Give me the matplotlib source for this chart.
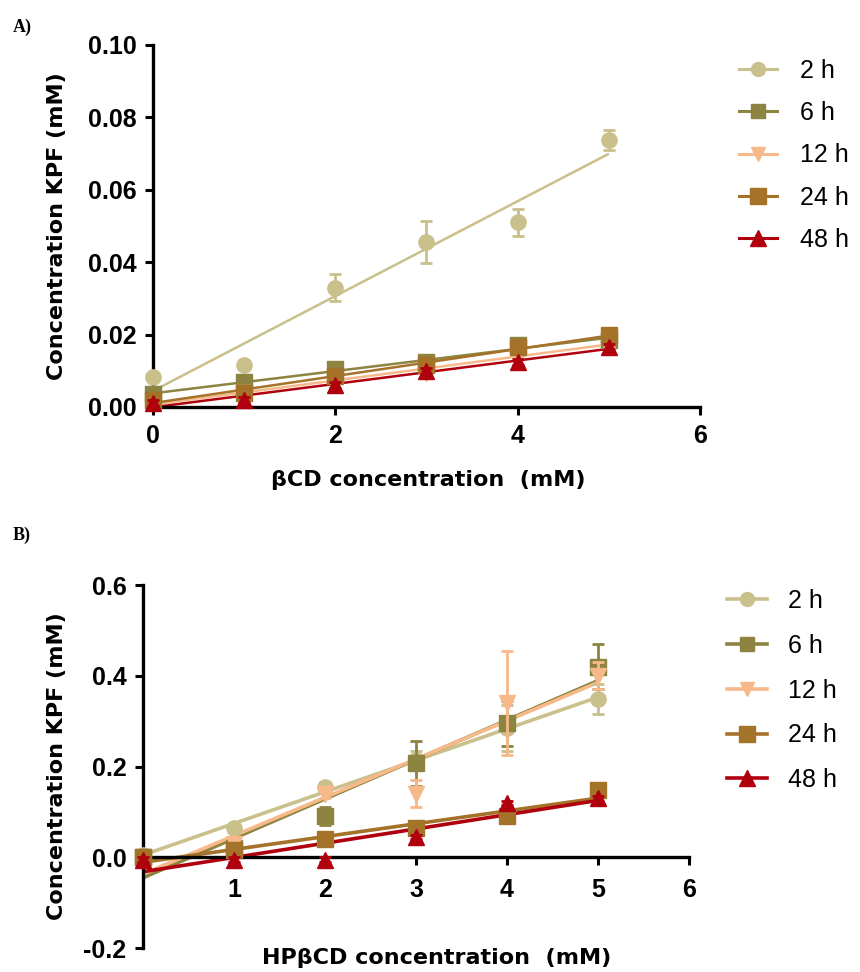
import numpy as np
import matplotlib
matplotlib.use("Agg")
import matplotlib.pyplot as plt
from matplotlib.lines import Line2D
from matplotlib import font_manager as fm

# ---------------- data ----------------
x_vals = [0, 1, 2, 3, 4, 5]
series_labels = ["2 h", "6 h", "12 h", "24 h", "48 h"]

# Panel A (beta-CD)
a_2h = [0.0083, 0.0115, 0.033, 0.0456, 0.051, 0.0738]
a_2h_err = [0.0008, 0.0008, 0.0037, 0.0058, 0.0037, 0.0028]
a_6h = [0.0035, 0.0068, 0.0105, 0.0125, 0.017, 0.0185]
a_6h_err = [0.0010, 0.0010, 0.0010, 0.0010, 0.0010, 0.0012]
a_12h = [0.0010, 0.0040, 0.0075, 0.0095, 0.0145, 0.0175]
a_12h_err = [0.0008, 0.0008, 0.0010, 0.0010, 0.0010, 0.0010]
a_24h = [0.0020, 0.0040, 0.0085, 0.0115, 0.0165, 0.0200]
a_24h_err = [0.0008, 0.0008, 0.0010, 0.0010, 0.0010, 0.0012]
a_48h = [0.0010, 0.0020, 0.0060, 0.0100, 0.0125, 0.0165]
a_48h_err = [0.0008, 0.0008, 0.0008, 0.0008, 0.0008, 0.0008]

# Panel B (HP-beta-CD)
b_2h = [0.005, 0.065, 0.155, 0.215, 0.285, 0.348]
b_2h_err = [0.005, 0.010, 0.010, 0.020, 0.050, 0.033]
b_6h = [0.000, 0.020, 0.090, 0.207, 0.295, 0.420]
b_6h_err = [0.005, 0.010, 0.020, 0.050, 0.050, 0.050]
b_12h = [-0.005, 0.030, 0.140, 0.140, 0.340, 0.400]
b_12h_err = [0.005, 0.010, 0.010, 0.030, 0.115, 0.030]
b_24h = [0.000, 0.015, 0.040, 0.065, 0.090, 0.148]
b_24h_err = [0.005, 0.005, 0.005, 0.005, 0.005, 0.005]
b_48h = [-0.005, -0.005, -0.005, 0.045, 0.120, 0.130]
b_48h_err = [0.005, 0.005, 0.005, 0.005, 0.005, 0.005]

a_yticks = [0.00, 0.02, 0.04, 0.06, 0.08, 0.10]
a_xticks = [0, 2, 4, 6]
b_yticks = [-0.2, 0.0, 0.2, 0.4, 0.6]
b_xticks = [1, 2, 3, 4, 5, 6]

# ---------------- style ----------------
colors = ["#C9C08C", "#8C8440", "#F7B98A", "#A5722A", "#B0000E"]
markers = ["o", "s", "v", "s", "^"]
msizes = [11, 11, 11, 12, 12]


def find_font(family, bold):
    for f in fm.fontManager.ttflist:
        if f.name == family:
            w = f.weight if isinstance(f.weight, int) else (700 if "bold" in str(f.weight).lower() else 400)
            if bold and w >= 600 and "Narrow" not in f.fname and f.style == "normal":
                return fm.FontProperties(fname=f.fname)
            if not bold and w < 600 and "Narrow" not in f.fname and f.style == "normal":
                return fm.FontProperties(fname=f.fname)
    return fm.FontProperties(family="DejaVu Sans", weight="bold" if bold else "normal")


tick_fp = find_font("Liberation Sans", True)
tick_fp.set_size(18)
legend_fp = find_font("Liberation Sans", False)
legend_fp.set_size(18)
LABEL_FONT = dict(family="DejaVu Sans", weight="bold", size=16)

fig = plt.figure(figsize=(8.6, 9.72), dpi=100)

axA = fig.add_axes([153/860, 1-407/972, (700-153)/860, (407-45)/972])
axB = fig.add_axes([143/860, 1-948/972, (689-143)/860, (948-585)/972])


def draw_panel(ax, ys, errs, lw):
    xs = np.array(x_vals, dtype=float)
    for i, (y, e) in enumerate(zip(ys, errs)):
        y = np.array(y)
        slope, icpt = np.polyfit(xs, y, 1)
        xx = np.array([xs.min(), xs.max()])
        ax.plot(xx, slope*xx + icpt, color=colors[i], lw=lw, zorder=2+i*0.1,
                solid_capstyle="butt")
        ax.errorbar(xs, y, yerr=e, fmt=markers[i], ms=msizes[i], color=colors[i],
                    mec=colors[i], ecolor=colors[i], elinewidth=2, capsize=4,
                    capthick=2, zorder=3+i*0.1, clip_on=False)


draw_panel(axA, [a_2h, a_6h, a_12h, a_24h, a_48h],
           [a_2h_err, a_6h_err, a_12h_err, a_24h_err, a_48h_err], 1.8)
draw_panel(axB, [b_2h, b_6h, b_12h, b_24h, b_48h],
           [b_2h_err, b_6h_err, b_12h_err, b_24h_err, b_48h_err], 2.6)

for ax in (axA, axB):
    for s in ("top", "right"):
        ax.spines[s].set_visible(False)
    for s in ("left", "bottom"):
        ax.spines[s].set_linewidth(2.4)
    ax.tick_params(width=2.2, length=6, direction="out", pad=6)
axB.tick_params(axis="x", pad=9)

# Panel A axes
axA.set_xlim(0, 6)
axA.set_ylim(0, 0.10)
axA.set_xticks(a_xticks)
axA.set_yticks(a_yticks)
axA.set_xticklabels([str(t) for t in a_xticks], fontproperties=tick_fp)
axA.set_yticklabels([f"{t:.2f}" for t in a_yticks], fontproperties=tick_fp)
axA.set_xlabel("βCD concentration  (mM)", **LABEL_FONT)
axA.set_ylabel("Concentration KPF (mM)", **LABEL_FONT)
axA.xaxis.set_label_coords(0.503, -0.2017)
axA.xaxis.label.set_va("center")
axA.yaxis.set_label_coords(-0.175, 0.5)
axA.yaxis.label.set_va("center")

# Panel B axes
axB.set_xlim(0, 6)
axB.set_ylim(-0.2, 0.6)
axB.spines["bottom"].set_position(("data", 0))
axB.set_xticks(b_xticks)
axB.set_yticks(b_yticks)
axB.set_xticklabels([str(t) for t in b_xticks], fontproperties=tick_fp)
axB.set_yticklabels([f"{t:.1f}" for t in b_yticks], fontproperties=tick_fp)
axB.set_xlabel("HPβCD concentration  (mM)", **LABEL_FONT)
axB.set_ylabel("Concentration KPF (mM)", **LABEL_FONT)
axB.xaxis.set_label_coords(0.537, -0.0275)
axB.xaxis.label.set_va("center")
axB.yaxis.set_label_coords(-0.158, 0.5)
axB.yaxis.label.set_va("center")


# Legends
def legend_handles(lw):
    return [Line2D([0], [0], color=colors[i], lw=lw, marker=markers[i],
                   ms=msizes[i] - 1, mec=colors[i]) for i in range(5)]


legA = fig.legend(legend_handles(2.2), series_labels, loc="upper left",
                  bbox_to_anchor=(739/860, 1-59/972), frameon=False,
                  prop=legend_fp,
                  handlelength=1.52, handletextpad=0.92, labelspacing=0.73,
                  borderpad=0, borderaxespad=0)
legB = fig.legend(legend_handles(2.6), series_labels, loc="upper left",
                  bbox_to_anchor=(727/860, 1-589/972), frameon=False,
                  prop=legend_fp,
                  handlelength=1.6, handletextpad=0.84, labelspacing=0.83,
                  borderpad=0, borderaxespad=0)

# Panel letters
fig.text(13/860, 1-27/972, "A)", family="Liberation Serif", weight="bold",
         size=13, va="center", ha="left")
fig.text(13/860, 1-535/972, "B)", family="Liberation Serif", weight="bold",
         size=13, va="center", ha="left")

fig.savefig("out.png", dpi=100)
